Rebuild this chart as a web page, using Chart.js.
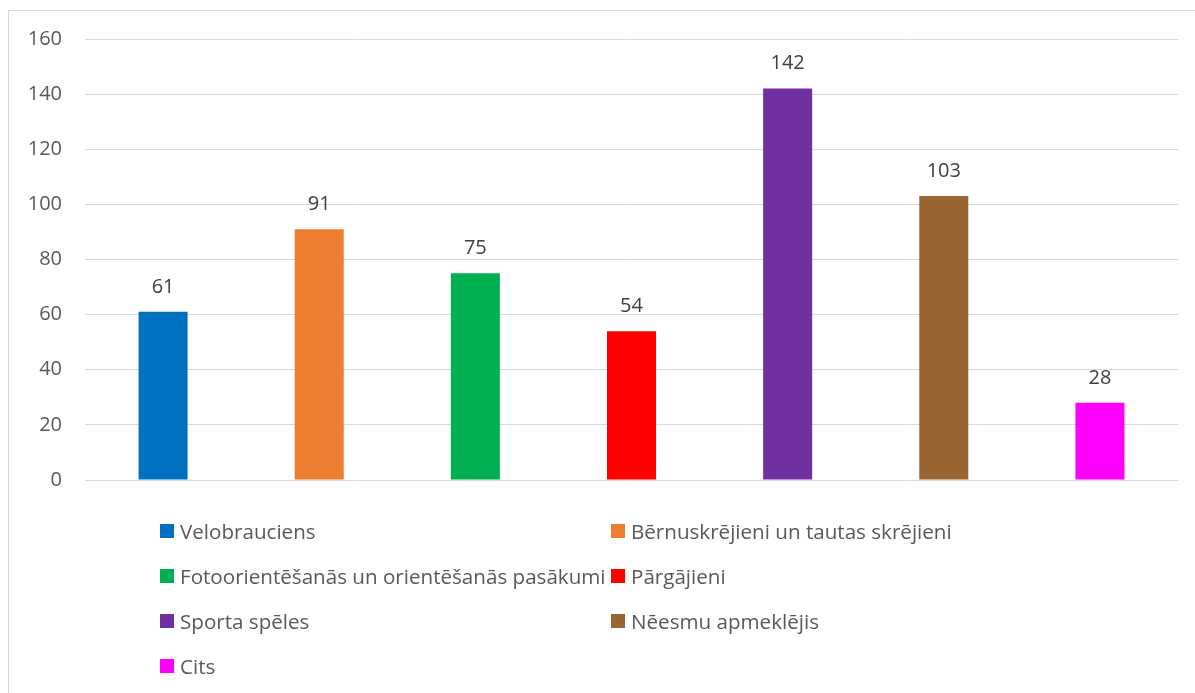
<!DOCTYPE html>
<html>
<head>
<meta charset="utf-8">
<script src="https://cdn.jsdelivr.net/npm/chart.js@4.4.1/dist/chart.umd.min.js"></script>
<style>
  html, body { margin:0; padding:0; background:#fff; overflow:hidden; }
  #wrap { position:relative; width:1195px; height:693px; }
  #frame { position:absolute; left:8px; top:10px; width:1200px; height:700px; border:1px solid #d9d9d9; box-sizing:border-box; }
  canvas { position:absolute; left:0; top:0; }
  #legend { position:absolute; left:0; top:0; width:1195px; height:693px; pointer-events:none; font-family: "Open Sans", sans-serif; font-size:20.6px; color:#595959; }
  .item { position:absolute; display:flex; align-items:center; white-space:nowrap; height:28px; }
  .box { width:14px; height:14px; margin-right:6px; flex:none; }
</style>
</head>
<body>
<div id="wrap">
  <div id="frame"></div>
  <canvas id="c" width="1195" height="693"></canvas>
  <div id="legend"></div>
</div>
<script>
const categories = ["Velobrauciens", "Bērnuskrējieni un tautas skrējieni", "Fotoorientēšanās un orientēšanās pasākumi", "Pārgājieni", "Sporta spēles", "Nēesmu apmeklējis", "Cits"];
const values = [61, 91, 75, 54, 142, 103, 28];
const colors = ["#0070C0", "#ED7D31", "#00B050", "#FF0000", "#7030A0", "#996633", "#FF00FF"];
const yTicks = [0, 20, 40, 60, 80, 100, 120, 140, 160];

const FONT = '"Open Sans", sans-serif';

const valueLabels = {
  id: 'valueLabels',
  afterDatasetsDraw(chart) {
    const ctx = chart.ctx;
    const meta = chart.getDatasetMeta(0);
    ctx.save();
    ctx.font = '20px ' + FONT;
    ctx.fillStyle = '#404040';
    ctx.textAlign = 'center';
    ctx.textBaseline = 'middle';
    meta.data.forEach((bar, i) => {
      ctx.fillText(String(values[i]), bar.x, bar.y - 25);
    });
    ctx.restore();
  }
};

new Chart(document.getElementById('c'), {
  type: 'bar',
  data: {
    labels: categories,
    datasets: [{
      data: values,
      backgroundColor: colors,
      borderWidth: 0,
      categoryPercentage: 1.0,
      barPercentage: 0.314
    }]
  },
  options: {
    responsive: false,
    animation: false,
    events: [],
    layout: { padding: { left: 0, right: 17, top: 39, bottom: 205 } },
    plugins: { legend: { display: false }, tooltip: { enabled: false } },
    scales: {
      x: {
        grid: { display: false },
        border: { display: false },
        ticks: { display: false }
      },
      y: {
        min: 0, max: 160,
        afterBuildTicks(scale) { scale.ticks = yTicks.map(v => ({ value: v })); },
        afterFit(scale) { scale.width = 85; },
        grid: { color: '#d9d9d9', lineWidth: 1, drawTicks: false },
        border: { display: false },
        ticks: { padding: 23, color: '#595959', font: { family: FONT, size: 20 } }
      }
    }
  },
  plugins: [valueLabels]
});

const legend = document.getElementById('legend');
const colX = [160, 611];
const rowY = [531, 576, 621, 666];
categories.forEach((name, i) => {
  const el = document.createElement('div');
  el.className = 'item';
  el.style.left = colX[i % 2] + 'px';
  el.style.top = (rowY[Math.floor(i / 2)] - 14) + 'px';
  const b = document.createElement('span');
  b.className = 'box';
  b.style.background = colors[i];
  const t = document.createElement('span');
  t.textContent = name;
  el.appendChild(b); el.appendChild(t);
  legend.appendChild(el);
});
</script>
</body>
</html>
